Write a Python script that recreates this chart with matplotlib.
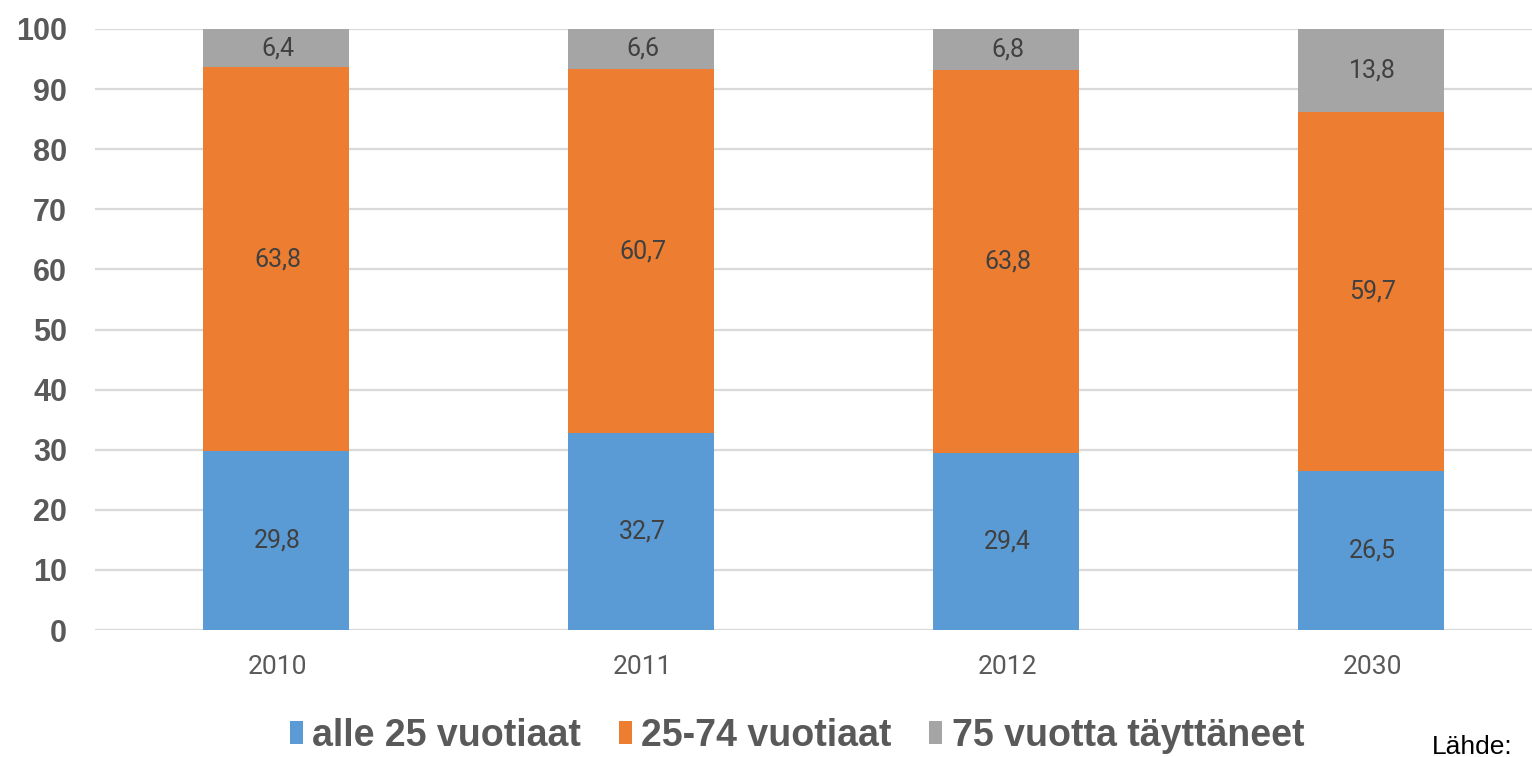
import numpy as np
import matplotlib
matplotlib.use("Agg")
import matplotlib.pyplot as plt

# chart data
years = ["2010", "2011", "2012", "2030"]
alle_25 = [29.8, 32.7, 29.4, 26.5]
v25_74 = [63.8, 60.7, 63.8, 59.7]
yli_75 = [6.4, 6.6, 6.8, 13.8]
series_names = ["alle 25 vuotiaat", "25-74 vuotiaat", "75 vuotta täyttäneet"]
colors = ["#5B9BD5", "#ED7D31", "#A5A5A5"]

fig = plt.figure(figsize=(15.32, 7.57), dpi=100)
ax = fig.add_axes([95 / 1532, 127 / 757, 1460 / 1532, 601 / 757])

x = np.arange(len(years))
bottom = np.zeros(len(years))
for vals, name, col in zip([alle_25, v25_74, yli_75], series_names, colors):
    vals = np.array(vals)
    ax.bar(x - 0.005, vals, width=0.4, bottom=bottom, color=col, label=name, zorder=3)
    for xi, b, v in zip(x, bottom, vals):
        ax.text(xi, b + v / 2, f"{v:.1f}".replace(".", ","), ha="center", va="center",
                fontsize=18, color="#404040", family="Roboto", zorder=4)
    bottom += vals

ax.set_xlim(-0.5, 3.5)
ax.set_ylim(0, 100)
ax.set_yticks(range(0, 101, 10))
ax.set_xticks(x)
ax.set_xticklabels(years, fontsize=19, color="#595959", family="Roboto")
for lbl in ax.get_yticklabels():
    lbl.set_fontsize(22)
    lbl.set_fontweight("bold")
    lbl.set_color("#595959")
    lbl.set_family("Liberation Sans")
ax.tick_params(axis="y", length=0, pad=20)
ax.tick_params(axis="x", length=0, pad=18)
ax.grid(axis="y", color="#D9D9D9", linewidth=1.6, zorder=0)
for s in ax.spines.values():
    s.set_visible(False)

leg = fig.legend(loc="center", bbox_to_anchor=(797 / 1532, 1 - 736 / 757), ncol=3, frameon=False,
                 handlelength=0.35, handleheight=0.55, handletextpad=0.25, columnspacing=1.0,
                 prop={"family": "Liberation Sans", "weight": "bold", "size": 27})
for t in leg.get_texts():
    t.set_color("#595959")

fig.text(1432 / 1532, 3 / 757, "Lähde:", ha="left", va="baseline", fontsize=19,
         color="#000000", family="Liberation Sans")

fig.savefig("out.png", dpi=100)
